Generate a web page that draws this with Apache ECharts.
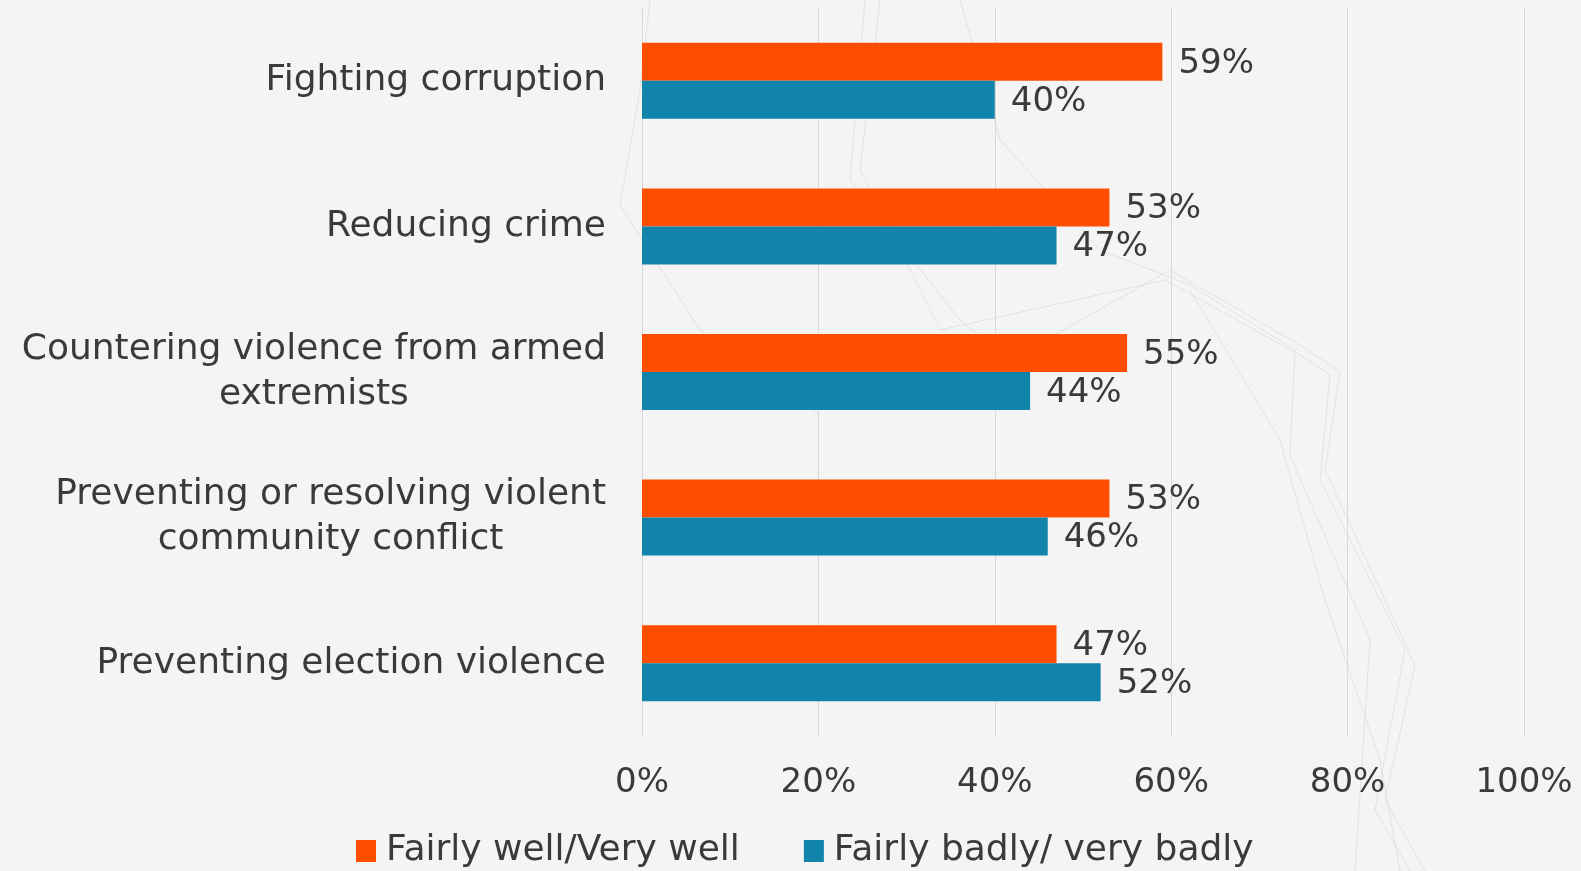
<!DOCTYPE html>
<html>
<head>
<meta charset="utf-8">
<script src="https://cdn.jsdelivr.net/npm/echarts@6/dist/echarts.min.js"></script>
<style>
html,body{margin:0;padding:0;background:#f4f4f4;}
#chart{width:1581px;height:871px;}
</style>
</head>
<body>
<div id="chart"></div>
<script>
// ---- data ----
var categories = [
  'Fighting corruption',
  'Reducing crime',
  'Countering violence from armed\nextremists',
  'Preventing or resolving violent\ncommunity conflict',
  'Preventing election violence'
];
var seriesNames = ['Fairly well/Very well', 'Fairly badly/ very badly'];
var wellValues = [59, 53, 55, 53, 47];
var badlyValues = [40, 47, 44, 46, 52];
var xTicks = [0, 20, 40, 60, 80, 100];

var FONT = '"DejaVu Sans", sans-serif';
var FS = 34;
var FS_CAT = 36;
var TXT = '#3a3a3a';

var chart = echarts.init(document.getElementById('chart'));

// faint decorative background strokes (template art, not data)
var decor = [
  [[650,0],[640,90],[620,205],[700,330],[820,415]],
  [[865,0],[850,180],[960,320],[1010,360],[1170,270],[1305,348],[1340,372],[1325,470],[1415,665],[1385,800],[1425,871]],
  [[880,0],[860,170],[940,330],[1165,280],[1300,355],[1330,375],[1320,480],[1405,650],[1375,810],[1410,871]],
  [[960,0],[1000,140],[1100,250],[1190,285],[1295,350],[1290,455],[1370,640],[1355,871]],
  [[1190,290],[1280,440],[1325,600],[1380,760],[1400,871]]
];
var graphics = decor.map(function (pts) {
  return {type: 'polyline', silent: true, z: -10, shape: {points: pts},
    style: {stroke: '#dadada', lineWidth: 1, fill: null, opacity: 0.7}};
});

chart.setOption({
  backgroundColor: '#f4f4f4',
  animation: false,
  graphic: graphics,
  legend: {
    data: seriesNames,
    top: 828,
    left: 351,
    itemWidth: 20,
    itemHeight: 22,
    itemGap: 64,
    icon: 'rect',
    textStyle: {fontFamily: FONT, fontSize: FS_CAT, color: TXT, padding: [0, 0, 0, 5]}
  },
  grid: {left: 642, right: 57, top: 8, bottom: 135, containLabel: false},
  xAxis: {
    type: 'value',
    min: 0, max: 100, interval: 20,
    axisLine: {show: false},
    axisTick: {show: false},
    splitLine: {show: true, lineStyle: {color: '#d9d9d9', width: 1}},
    axisLabel: {
      margin: 30,
      fontFamily: FONT, fontSize: FS, color: TXT,
      formatter: function (v) { return xTicks.indexOf(v) >= 0 ? v + '%' : ''; }
    }
  },
  yAxis: {
    type: 'category',
    data: categories,
    inverse: true,
    axisLine: {show: true, lineStyle: {color: '#d9d9d9'}},
    axisTick: {show: false},
    axisLabel: {
      margin: 36,
      align: 'right',
      lineHeight: 45,
      fontFamily: FONT, fontSize: FS_CAT, color: TXT,
      formatter: function (v) {
        return v.split('\n').map(function (l) { return '{c|' + l + '}'; }).join('\n');
      },
      rich: {c: {align: 'center', fontFamily: FONT, fontSize: FS_CAT, color: TXT, lineHeight: 45}}
    }
  },
  series: [
    {
      name: seriesNames[0], type: 'bar', data: wellValues,
      barWidth: 38, barGap: '0%',
      itemStyle: {color: '#FF4E00'},
      label: {show: true, position: 'right', distance: 16, offset: [0, 2], formatter: '{c}%',
        fontFamily: FONT, fontSize: FS, color: TXT}
    },
    {
      name: seriesNames[1], type: 'bar', data: badlyValues,
      barWidth: 38,
      itemStyle: {color: '#1184AB'},
      label: {show: true, position: 'right', distance: 16, offset: [0, 2], formatter: '{c}%',
        fontFamily: FONT, fontSize: FS, color: TXT}
    }
  ]
});
</script>
</body>
</html>
